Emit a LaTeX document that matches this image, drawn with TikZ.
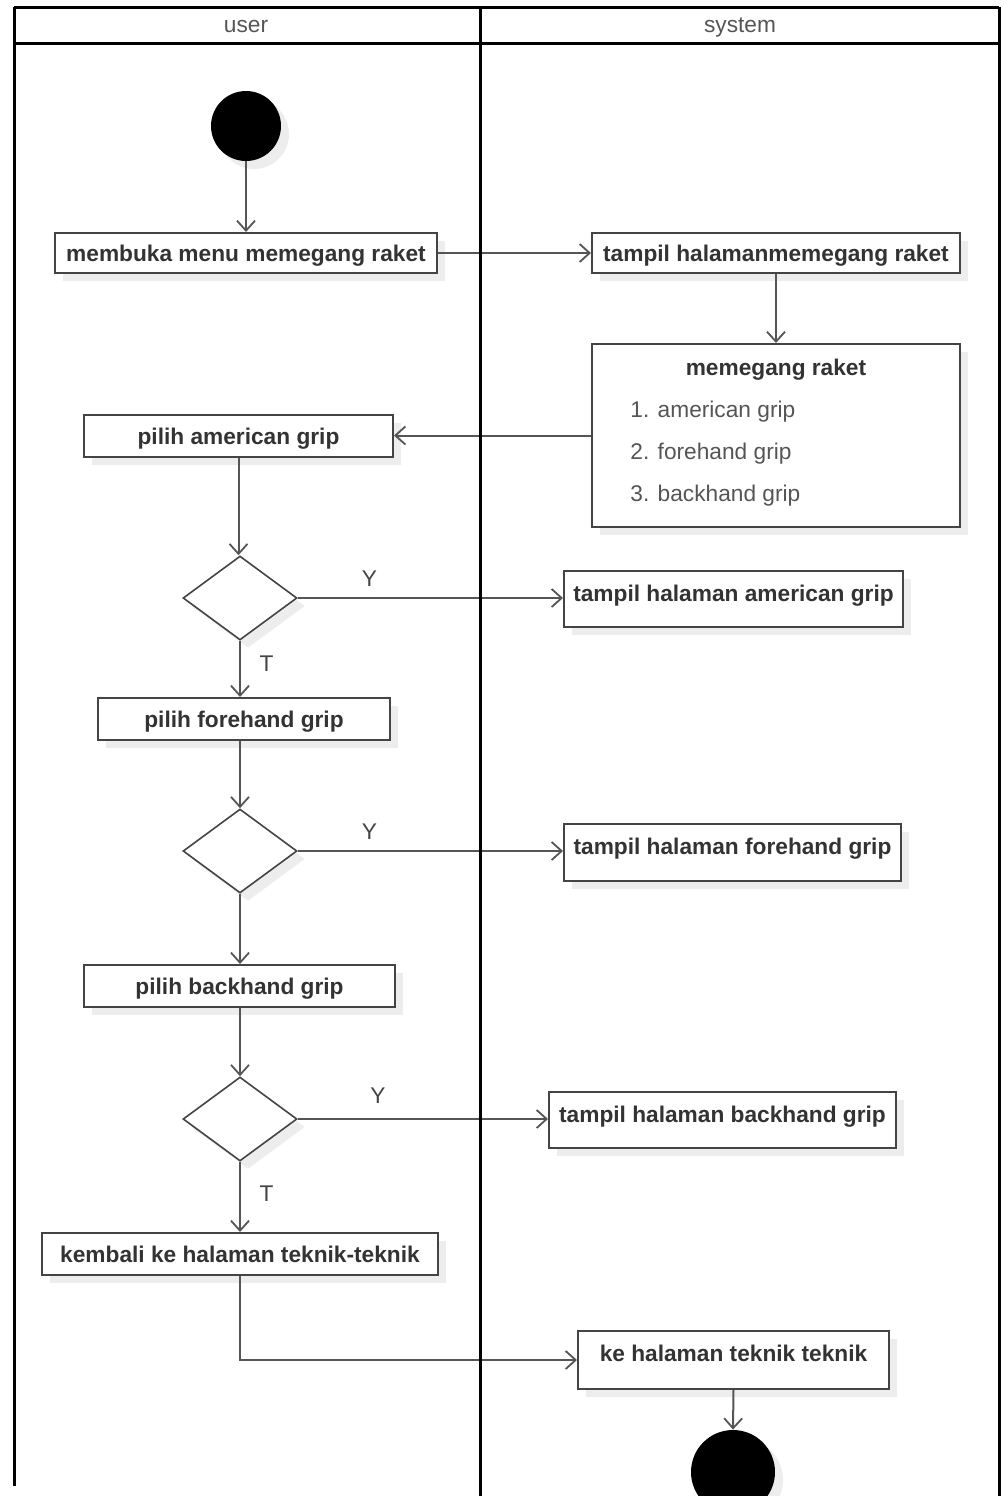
\documentclass[tikz,border=0pt]{standalone}
\usepackage{fontspec}
\setmainfont{Liberation Sans}
\usetikzlibrary{arrows.meta,shapes.geometric,shadows}

\definecolor{edgegray}{HTML}{444444}
\definecolor{linegray}{HTML}{555555}
\definecolor{inkgray}{HTML}{333333}

\tikzset{
  soft shadow/.style={drop shadow={shadow xshift=4pt, shadow yshift=-4pt, fill=black, opacity=0.07}},
  actbox/.style={rectangle, draw=edgegray, line width=1pt, fill=white, soft shadow,
    font=\fontsize{11.35pt}{13pt}\selectfont\bfseries, text=inkgray,
    inner xsep=0pt, inner ysep=0pt, text height=10pt, text depth=1.5pt},
  tallbox/.style={actbox, anchor=north, text height=15pt},
  decision/.style={diamond, draw=edgegray, line width=0.8pt, fill=white, soft shadow,
    minimum width=57pt, minimum height=42pt, inner sep=0pt},
  terminal/.style={circle, fill=black, inner sep=0pt, soft shadow},
  flow/.style={draw=linegray, line width=1pt, -{Straight Barb[length=5pt,width=9pt,line width=0.9pt]}},
  guard/.style={font=\fontsize{11.35pt}{13pt}\selectfont, text=edgegray},
  lanehead/.style={font=\fontsize{11.35pt}{13pt}\selectfont, text=linegray, anchor=base, inner sep=0pt},
  itemtext/.style={font=\fontsize{11.35pt}{13pt}\selectfont, text=linegray, anchor=base west, inner sep=0pt},
  lane/.style={draw=black, line width=1.5pt}
}

\begin{document}
\begin{tikzpicture}[x=0.5pt, y=-0.5pt]
  \useasboundingbox (0,0) rectangle (1003,1496);

  % user lane
  \node[terminal, minimum size=35pt] (start) at (246,126) {};
  \node[actbox, minimum width=191pt, minimum height=20pt] (b1) at (246,253) {membuka menu memegang raket};
  \node[actbox, minimum width=154.5pt, minimum height=21pt] (pa) at (238.5,436) {pilih american grip};
  \node[decision] (d1) at (240,598) {};
  \node[actbox, minimum width=146pt, minimum height=21pt] (pf) at (244,719) {pilih forehand grip};
  \node[decision] (d2) at (240,851) {};
  \node[actbox, minimum width=155.5pt, minimum height=21pt] (pb) at (239.5,986) {pilih backhand grip};
  \node[decision] (d3) at (240,1119) {};
  \node[actbox, minimum width=198pt, minimum height=21pt] (kb) at (240,1254) {kembali ke halaman teknik-teknik};

  % system lane
  \node[actbox, minimum width=184pt, minimum height=20pt] (b2) at (776,253) {tampil halamanmemegang raket};
  \node[actbox, minimum width=184pt, minimum height=91.5pt, text height=0pt, text depth=0pt] (opsi) at (776,435.5) {};
  \node[font=\fontsize{11.35pt}{13pt}\selectfont\bfseries, text=inkgray, anchor=base, inner sep=0pt] (opsiT) at (776,375) {memegang raket};
  \node[itemtext] (opsiA) at (630,417) {1. american grip};
  \node[itemtext] (opsiB) at (630,459) {2. forehand grip};
  \node[itemtext] (opsiC) at (630,501) {3. backhand grip};
  \node[tallbox, minimum width=169.5pt, text depth=13pt] (ta) at (733.5,570) {tampil halaman american grip};
  \node[tallbox, minimum width=168.5pt, text depth=13.5pt] (tf) at (732.5,823) {tampil halaman forehand grip};
  \node[tallbox, minimum width=173.5pt, text depth=13pt] (tb) at (722.5,1091) {tampil halaman backhand grip};
  \node[tallbox, minimum width=155.5pt, text depth=14pt] (kt) at (733.5,1330) {ke halaman teknik teknik};
  \node[terminal, minimum size=42pt] (stop) at (733,1472) {};

  % control flow
  \draw[flow] (start) -- (b1);
  \draw[flow] (b1.east) -- (b2.west);
  \draw[flow] (b2.south) -- (opsi.north);
  \draw[flow] (opsi.west) -- (opsi.west -| pa.east);
  \draw[flow] (pa.south) -- (pa.south |- d1.north);
  \draw[flow] (d1.east) -- (ta.west |- d1.east) node[guard, pos=0.27, above=2pt] (y1) {Y};
  \draw[flow] (d1.south) -- (d1.south |- pf.north) node[guard, pos=0.4, right=6pt] (t1) {T};
  \draw[flow] (pf.south -| d2.north) -- (d2.north);
  \draw[flow] (d2.east) -- (tf.west |- d2.east) node[guard, pos=0.27, above=2pt] (y2) {Y};
  \draw[flow] (d2.south) -- (d2.south |- pb.north);
  \draw[flow] (pb.south -| d3.north) -- (d3.north);
  \draw[flow] (d3.east) -- (tb.west |- d3.east) node[guard, pos=0.32, above=4pt] (y3) {Y};
  \draw[flow] (d3.south) -- (d3.south |- kb.north) node[guard, pos=0.45, right=6pt] (t3) {T};
  \draw[flow] (kb.south) |- (kt.west);
  \draw[flow] (kt.south) -- (stop.north);

  % swimlanes
  \node[lanehead] (userhead) at (246,32) {user};
  \node[lanehead] (syshead) at (740,32) {system};
  \draw[lane] (14,7) -- (999,7);
  \draw[lane] (14,43) -- (999,43);
  \draw[lane] (14,7) -- (14,1486);
  \draw[lane] (480,7) -- (480,1496);
  \draw[lane] (999,7) -- (999,1496);
\end{tikzpicture}
\end{document}
